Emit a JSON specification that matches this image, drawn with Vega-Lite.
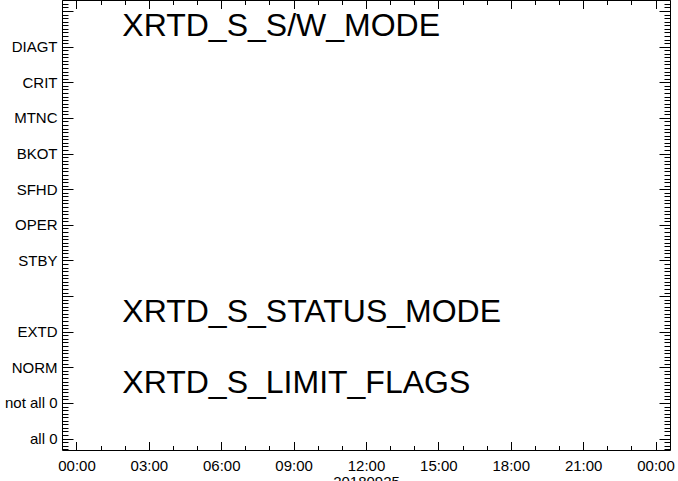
{
  "$schema": "https://vega.github.io/schema/vega-lite/v6.json",
  "width": 608,
  "height": 450,
  "autosize": "none",
  "padding": {"left": 62, "top": 0, "right": 8, "bottom": 31},
  "background": "white",
  "config": {
    "view": {"stroke": "black", "strokeWidth": 1},
    "axis": {
      "grid": false,
      "domain": false,
      "labelFont": "Liberation Sans",
      "labelFontSize": 15,
      "labelColor": "black",
      "tickColor": "black",
      "tickWidth": 1,
      "titleFont": "Liberation Sans",
      "titleFontSize": 15,
      "titleFontWeight": "normal",
      "titleColor": "black"
    }
  },
  "data": {
    "values": [
      {"label": "XRTD_S_S/W_MODE", "t": 1.9, "v": 11.3},
      {"label": "XRTD_S_STATUS_MODE", "t": 1.9, "v": 3.26},
      {"label": "XRTD_S_LIMIT_FLAGS", "t": 1.9, "v": 1.29}
    ]
  },
  "resolve": {"axis": {"x": "independent", "y": "independent"}},
  "layer": [
    {
      "mark": {"type": "text", "align": "left", "baseline": "alphabetic", "font": "Liberation Sans", "fontSize": 32, "color": "black"},
      "encoding": {
        "x": {"field": "t", "type": "quantitative", "scale": {"domain": [-0.6, 24.6], "nice": false, "zero": false},
          "axis": {"orient": "bottom", "values": [0, 3, 6, 9, 12, 15, 18, 21, 24], "ticks": false, "labelPadding": 8,
            "labelExpr": "(datum.value % 24 < 10 ? '0' : '') + (datum.value % 24) + ':00'",
            "title": "20180925", "titlePadding": 1}},
        "y": {"field": "v", "type": "quantitative", "scale": {"domain": [-0.32, 12.31], "nice": false, "zero": false},
          "axis": {"orient": "left", "values": [0, 1, 2, 3, 5, 6, 7, 8, 9, 10, 11], "ticks": false, "labelPadding": 5,
            "labelExpr": "['all 0','not all 0','NORM','EXTD','','STBY','OPER','SFHD','BKOT','MTNC','CRIT','DIAGT'][datum.value]",
            "title": null}},
        "text": {"field": "label", "type": "nominal"}
      }
    },
    {
      "mark": {"type": "point", "opacity": 0},
      "encoding": {
        "x": {"field": "t", "type": "quantitative", "scale": {"domain": [-0.6, 24.6], "nice": false, "zero": false},
          "axis": {"orient": "bottom", "values": [0, 3, 6, 9, 12, 15, 18, 21, 24], "labels": false, "tickSize": -8.5, "title": null}},
        "y": {"field": "v", "type": "quantitative", "scale": {"domain": [-0.32, 12.31], "nice": false, "zero": false},
          "axis": {"orient": "left", "values": [0, 1, 2, 3, 4, 5, 6, 7, 8, 9, 10, 11, 12], "labels": false, "tickSize": -11, "title": null}}
      }
    },
    {
      "mark": {"type": "point", "opacity": 0},
      "encoding": {
        "x": {"field": "t", "type": "quantitative", "scale": {"domain": [-0.6, 24.6], "nice": false, "zero": false},
          "axis": {"orient": "bottom", "values": [0,1,2,3,4,5,6,7,8,9,10,11,12,13,14,15,16,17,18,19,20,21,22,23,24], "labels": false, "tickSize": -4.5, "title": null}},
        "y": {"field": "v", "type": "quantitative", "scale": {"domain": [-0.32, 12.31], "nice": false, "zero": false},
          "axis": {"orient": "left", "values": [-0.3,-0.2,-0.1,0,0.1,0.2,0.3,0.4,0.5,0.6,0.7,0.8,0.9,1,1.1,1.2,1.3,1.4,1.5,1.6,1.7,1.8,1.9,2,2.1,2.2,2.3,2.4,2.5,2.6,2.7,2.8,2.9,3,3.1,3.2,3.3,3.4,3.5,3.6,3.7,3.8,3.9,4,4.1,4.2,4.3,4.4,4.5,4.6,4.7,4.8,4.9,5,5.1,5.2,5.3,5.4,5.5,5.6,5.7,5.8,5.9,6,6.1,6.2,6.3,6.4,6.5,6.6,6.7,6.8,6.9,7,7.1,7.2,7.3,7.4,7.5,7.6,7.7,7.8,7.9,8,8.1,8.2,8.3,8.4,8.5,8.6,8.7,8.8,8.9,9,9.1,9.2,9.3,9.4,9.5,9.6,9.7,9.8,9.9,10,10.1,10.2,10.3,10.4,10.5,10.6,10.7,10.8,10.9,11,11.1,11.2,11.3,11.4,11.5,11.6,11.7,11.8,11.9,12,12.1,12.2,12.3], "labels": false, "tickSize": -6, "title": null}}
      }
    },
    {
      "mark": {"type": "point", "opacity": 0},
      "encoding": {
        "x": {"field": "t", "type": "quantitative", "scale": {"domain": [-0.6, 24.6], "nice": false, "zero": false},
          "axis": {"orient": "top", "values": [0, 3, 6, 9, 12, 15, 18, 21, 24], "labels": false, "tickSize": -8.5, "title": null}},
        "y": {"field": "v", "type": "quantitative", "scale": {"domain": [-0.32, 12.31], "nice": false, "zero": false},
          "axis": {"orient": "right", "values": [0, 1, 2, 3, 4, 5, 6, 7, 8, 9, 10, 11, 12], "labels": false, "tickSize": -11, "title": null}}
      }
    },
    {
      "mark": {"type": "point", "opacity": 0},
      "encoding": {
        "x": {"field": "t", "type": "quantitative", "scale": {"domain": [-0.6, 24.6], "nice": false, "zero": false},
          "axis": {"orient": "top", "values": [0,1,2,3,4,5,6,7,8,9,10,11,12,13,14,15,16,17,18,19,20,21,22,23,24], "labels": false, "tickSize": -4.5, "title": null}},
        "y": {"field": "v", "type": "quantitative", "scale": {"domain": [-0.32, 12.31], "nice": false, "zero": false},
          "axis": {"orient": "right", "values": [-0.3,-0.2,-0.1,0,0.1,0.2,0.3,0.4,0.5,0.6,0.7,0.8,0.9,1,1.1,1.2,1.3,1.4,1.5,1.6,1.7,1.8,1.9,2,2.1,2.2,2.3,2.4,2.5,2.6,2.7,2.8,2.9,3,3.1,3.2,3.3,3.4,3.5,3.6,3.7,3.8,3.9,4,4.1,4.2,4.3,4.4,4.5,4.6,4.7,4.8,4.9,5,5.1,5.2,5.3,5.4,5.5,5.6,5.7,5.8,5.9,6,6.1,6.2,6.3,6.4,6.5,6.6,6.7,6.8,6.9,7,7.1,7.2,7.3,7.4,7.5,7.6,7.7,7.8,7.9,8,8.1,8.2,8.3,8.4,8.5,8.6,8.7,8.8,8.9,9,9.1,9.2,9.3,9.4,9.5,9.6,9.7,9.8,9.9,10,10.1,10.2,10.3,10.4,10.5,10.6,10.7,10.8,10.9,11,11.1,11.2,11.3,11.4,11.5,11.6,11.7,11.8,11.9,12,12.1,12.2,12.3], "labels": false, "tickSize": -6, "title": null}}
      }
    }
  ]
}
